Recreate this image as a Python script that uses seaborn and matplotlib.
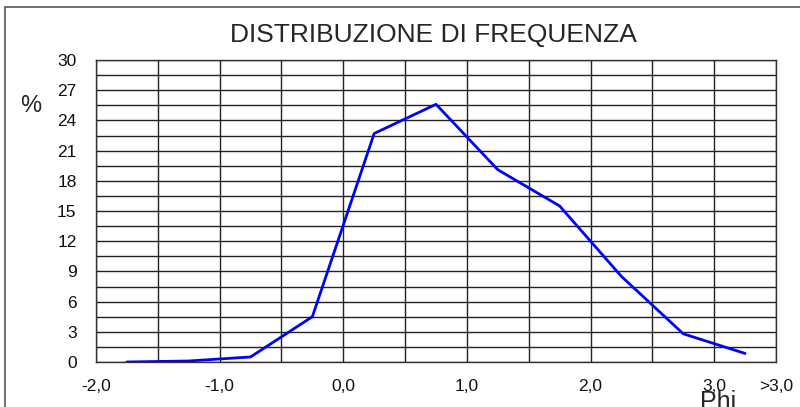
import matplotlib
matplotlib.use("Agg")
import matplotlib.pyplot as plt
import seaborn as sns
import pandas as pd
from matplotlib.patches import Rectangle

# Data
phi_mid = [-1.75, -1.25, -0.75, -0.25, 0.25, 0.75, 1.25, 1.75, 2.25, 2.75, 3.25]
percent = [0.0, 0.1, 0.5, 4.5, 22.7, 25.6, 19.1, 15.5, 8.5, 2.8, 0.85]
x_ticks = [-2.0, -1.5, -1.0, -0.5, 0.0, 0.5, 1.0, 1.5, 2.0, 2.5, 3.0, 3.5]
x_labels = ["-2,0", "", "-1,0", "", "0,0", "", "1,0", "", "2,0", "", "3,0", ">3,0"]
y_ticks = [0, 1.5, 3, 4.5, 6, 7.5, 9, 10.5, 12, 13.5, 15, 16.5, 18, 19.5, 21,
           22.5, 24, 25.5, 27, 28.5, 30]
y_labels = ["0", "", "3", "", "6", "", "9", "", "12", "", "15", "", "18", "",
            "21", "", "24", "", "27", "", "30"]
title = "DISTRIBUZIONE DI FREQUENZA"

sns.set_style("white")
plt.rcParams['font.family'] = ['Liberation Sans', 'DejaVu Sans']

fig = plt.figure(figsize=(8, 4.07), dpi=100)
fig.patch.set_facecolor("white")
ax = fig.add_axes([96/800, 45/407, 680/800, 302/407])

df = pd.DataFrame({"phi": phi_mid, "pct": percent})
sns.lineplot(data=df, x="phi", y="pct", ax=ax, color="#0000FF", linewidth=2, zorder=5)

ax.set_xlim(-2.0, 3.5)
ax.set_ylim(0, 30)
ax.set_xticks(x_ticks)
ax.set_xticklabels(x_labels)
ax.set_yticks(y_ticks)
ax.set_yticklabels(y_labels)
ax.set_xlabel("")
ax.set_ylabel("")
ax.grid(True, color="#222222", linewidth=1)
ax.tick_params(axis="both", direction="out", length=8, width=1, color="#222222",
               labelsize=12.5, labelcolor="#111111")
ax.tick_params(axis="x", pad=4)
ax.tick_params(axis="y", pad=6)
for s in ax.spines.values():
    s.set_visible(True)
    s.set_color("#333333")
    s.set_linewidth(1)

fig.text(433/800, 1 - 35/407, title, ha="center", va="center", fontsize=19)
fig.text(31/800, 1 - 106/407, "%", ha="center", va="center", fontsize=17)
fig.text(718/800, -2/407, "Phi", ha="center", va="baseline", fontsize=18)

fig.patches.append(Rectangle((5/800, -0.1), 1.2, 1 - 7/407 + 0.1,
                             transform=fig.transFigure, fill=False,
                             edgecolor="#555555", linewidth=1.2))

fig.savefig("out.png", dpi=100)
